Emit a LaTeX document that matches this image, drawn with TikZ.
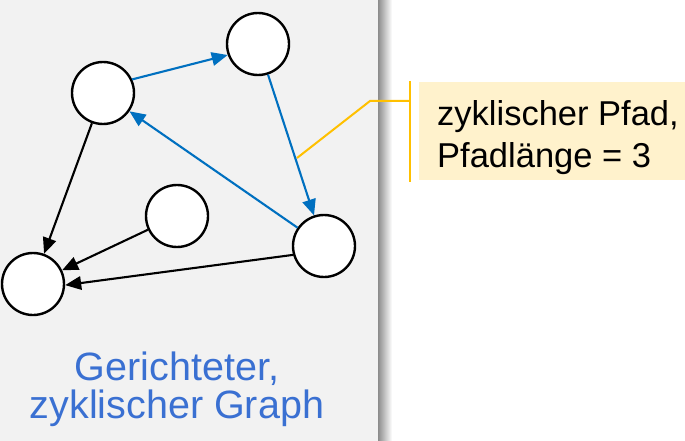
\documentclass[tikz,border=0pt]{standalone}
\usepackage{fontspec}
\setmainfont{Liberation Sans}
\usetikzlibrary{arrows.meta}
\definecolor{panelgray}{RGB}{242,242,242}
\definecolor{edgeblue}{RGB}{0,112,192}
\definecolor{capblue}{RGB}{58,112,210}
\definecolor{callyellow}{RGB}{255,192,0}
\definecolor{callfill}{RGB}{255,242,204}
\tikzset{
  vertex/.style={circle,draw=black,fill=white,line width=2.4pt,minimum size=62pt,inner sep=0pt},
  blackedge/.style={draw=black,line width=2.1pt,-{Triangle[length=16pt,width=13.5pt]}},
  blueedge/.style={draw=edgeblue,line width=2.1pt,-{Triangle[length=16pt,width=13.5pt]}},
  callline/.style={draw=callyellow,line width=2pt},
}
\begin{document}
\begin{tikzpicture}[x=1pt,y=-1pt]
\useasboundingbox (0,0) rectangle (685,441);
\fill[white] (0,0) rectangle (685,441);
% panel
\fill[panelgray] (0,0) rectangle (378,441);
\shade[left color=black!45,right color=white] (378,0) rectangle (392,441);
% callout box
\fill[callfill] (419,82) rectangle (685,180);
\draw[callline] (410,81) -- (410,182);
\coordinate (cbend) at (370,101);
\coordinate (cstart) at (410,101);
\coordinate (ctip) at (297,158);
\draw[callline] (cstart) -- (cbend) -- (ctip);
\node[anchor=base west,inner sep=0pt,font=\fontsize{34.5}{42}\selectfont] (t1) at (437,125) {zyklischer Pfad,};
\node[anchor=base west,inner sep=0pt,font=\fontsize{34.5}{42}\selectfont] (t2) at (437,167) {Pfadlänge = 3};
% vertices
\node[vertex] (A) at (103,93) {};
\node[vertex] (B) at (258,44) {};
\node[vertex] (C) at (324,246) {};
\node[vertex] (D) at (177,216) {};
\node[vertex] (E) at (33,284) {};
% edges
\draw[blueedge] (A.25) -- (B.200);
\draw[blueedge] (B) -- (C);
\draw[blueedge] (C) -- (A);
\draw[blackedge] (A) -- (E);
\draw[blackedge] (D) -- (E);
\draw[blackedge] (C.196) -- (E.-2);
% caption
\node[anchor=base,inner sep=0pt,text=capblue,font=\fontsize{39.5}{38}\selectfont] (cap1) at (177,380) {Gerichteter,};
\node[anchor=base,inner sep=0pt,text=capblue,font=\fontsize{39.5}{38}\selectfont] (cap2) at (177,418) {zyklischer Graph};
\end{tikzpicture}
\end{document}
